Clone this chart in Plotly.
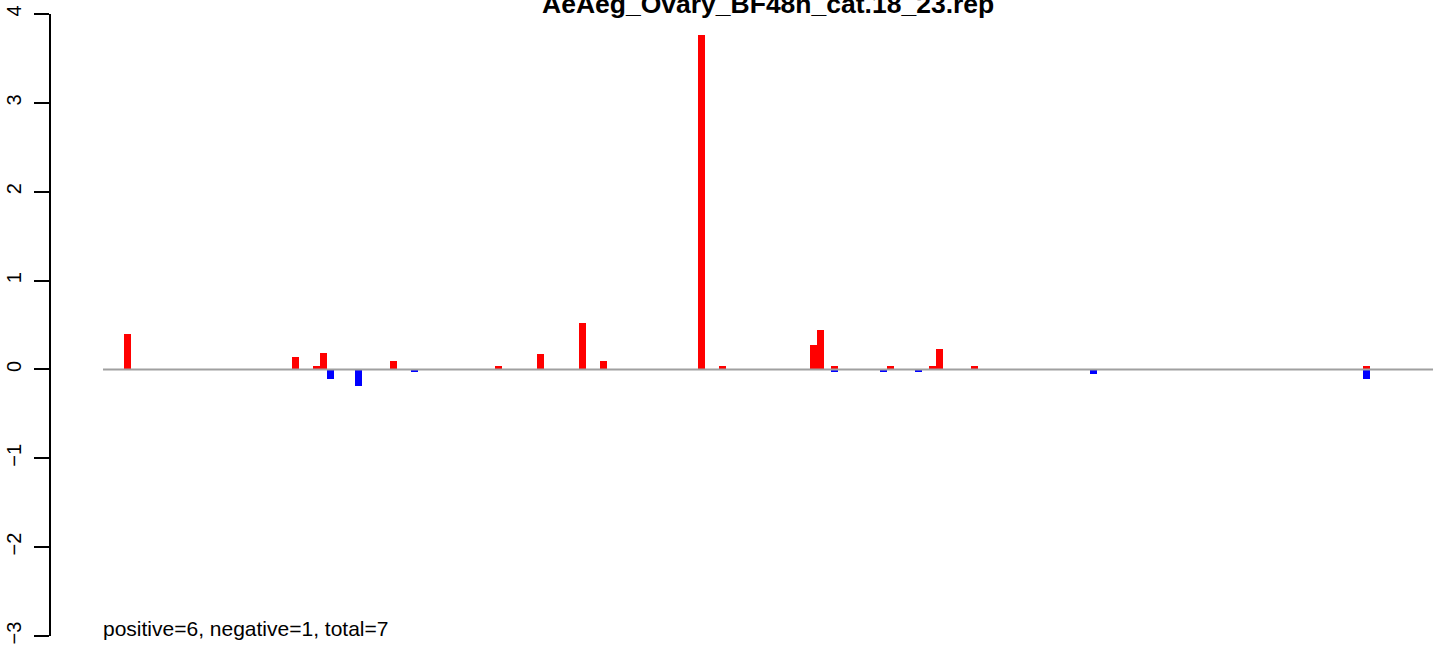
import plotly.graph_objects as go

# ---- data ----
title_text = "AeAeg_Ovary_BF48h_cat.18_23.rep"
summary_text = "positive=6, negative=1, total=7"
n_positions = 190

pos_x = [4, 28, 31, 32, 42, 57, 63, 69, 72, 86, 89, 102, 103, 105, 113, 119, 120, 125, 181]
pos_y = [0.40, 0.135, 0.034, 0.19, 0.09, 0.034, 0.17, 0.52, 0.09, 3.76, 0.034, 0.27, 0.44, 0.034, 0.034, 0.034, 0.225, 0.034, 0.034]

neg_x = [33, 37, 45, 105, 112, 117, 142, 181]
neg_y = [-0.113, -0.19, -0.034, -0.034, -0.034, -0.034, -0.056, -0.113]

y_ticks = [-3, -2, -1, 0, 1, 2, 3, 4]

FONT = "Liberation Sans, Arial, sans-serif"

fig = go.Figure()
fig.add_trace(go.Bar(x=pos_x, y=pos_y, width=1, marker=dict(color="#FF0000", line=dict(width=0)), showlegend=False))
fig.add_trace(go.Bar(x=neg_x, y=neg_y, width=1, marker=dict(color="#0000FF", line=dict(width=0)), showlegend=False))

# zero baseline spanning all positions
fig.add_shape(type="line", xref="x", yref="y", x0=0.5, x1=n_positions + 0.5, y0=0, y1=0,
              line=dict(color="#A0A0A0", width=2), layer="above")

fig.add_annotation(text="<b>" + title_text + "</b>", xref="x", yref="paper",
                   x=(0.5 + n_positions + 0.5) / 2, y=1, xanchor="center", yanchor="bottom",
                   yshift=-7, showarrow=False, font=dict(family=FONT, size=26.5, color="black"))
fig.add_annotation(text=summary_text, xref="x", yref="y", x=0.5, y=-3,
                   xanchor="left", yanchor="bottom", yshift=-6, xshift=-2, showarrow=False,
                   font=dict(family=FONT, size=21, color="black"))

fig.update_layout(
    width=1444, height=645,
    margin=dict(l=51, r=10, t=14, b=9, autoexpand=False),
    paper_bgcolor="white", plot_bgcolor="white",
    barmode="overlay", bargap=0,
    font=dict(family=FONT, color="black"),
    hovermode=False,
)
fig.update_xaxes(range=[-6.93, 190.64], visible=False, showgrid=False, zeroline=False, automargin=False)
fig.update_yaxes(range=[-3, 4], tickvals=y_ticks, ticktext=[str(t).replace("-", "\u2212") for t in y_ticks],
                 showgrid=False, zeroline=False, showline=True, linecolor="black", linewidth=1.5,
                 ticks="outside", ticklen=15, tickwidth=1.5, tickcolor="black",
                 tickangle=-90, tickfont=dict(family=FONT, size=20, color="black"),
                 ticklabelstandoff=5, automargin=False)

fig.write_html("out.html", config={"displayModeBar": False},
               post_script="document.body.style.margin='0';")
